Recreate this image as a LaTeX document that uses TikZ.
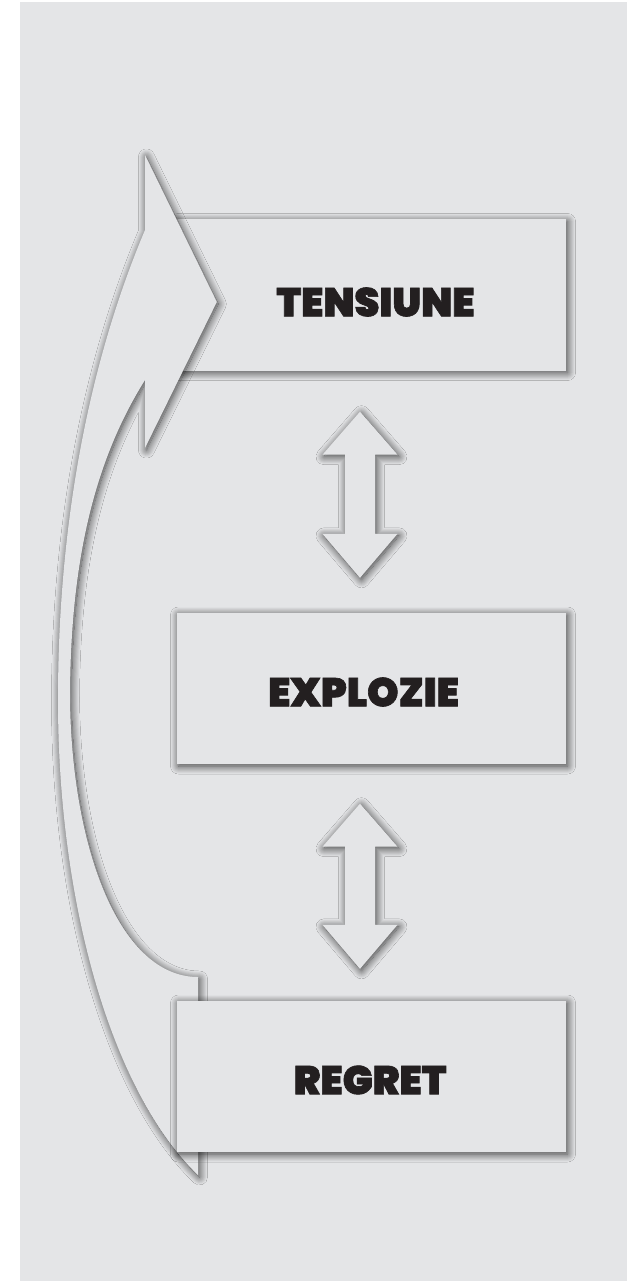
\documentclass[tikz,border=0pt]{standalone}
\usepackage{fontspec}
\setmainfont{Poppins}
\newfontfamily\heavy{Poppins}[UprightFont=* Bold, FakeBold=1.6]
\usetikzlibrary{calc,shadows.blur}
\definecolor{bg}{HTML}{E4E5E7}
\definecolor{ink}{HTML}{231F20}
\tikzset{
  soft/.style={fill=bg, blur shadow={shadow xshift=1.5pt, shadow yshift=-2pt,
      shadow blur radius=8pt, shadow blur steps=16, shadow opacity=75}},
  stagebox/.style={soft, draw=none, minimum width=389pt, minimum height=151pt, inner sep=0pt},
  lbl/.style={text=ink, inner sep=0pt, font=\fontsize{40}{40}\selectfont\heavy\bfseries},
}
\newcommand\dblarrow[2]{%
  \fill[soft] (#1) -- ($(#1)+(37.5,43)$) -- ($(#1)+(15,43)$) -- ($(#2)+(15,-44)$)
    -- ($(#2)+(37.5,-44)$) -- (#2) -- ($(#2)+(-37.5,-44)$) -- ($(#2)+(-15,-44)$)
    -- ($(#1)+(-15,43)$) -- ($(#1)+(-37.5,43)$) -- cycle;}
\begin{document}
\begin{tikzpicture}[x=1pt,y=-1pt]
\useasboundingbox (0,0) rectangle (627,1281);
\fill[white] (0,0) rectangle (627,1281);
\fill[bg] (20,2) rectangle (627,1281);

% boxes
\node[stagebox] (t) at (371.5,295) {};
\node[stagebox] (e) at (371.5,688.5) {};

% big return arrow (from REGRET back to TENSIUNE)
\coordinate (tip) at ($(t.west)+(40,7)$);
\fill[soft] (145,155) -- (tip) -- (145,448) -- (145,380)
  .. controls (95,460) and (70,560) .. (70,700)
  .. controls (72,850) and (120,977) .. (198,977)
  -- (198,1175)
  .. controls (110,1090) and (58,900) .. (58,700)
  .. controls (58,520) and (90,360) .. (145,230) -- cycle;

\node[stagebox] (r) at (371.5,1076.5) {};

% labels
\node[lbl] at (375.5,302) {TENSIUNE};
\node[lbl] at (363.5,692) {EXPLOZIE};
\node[lbl] at (370,1080) {REGRET};

% double arrows between boxes
\coordinate (a1) at ($(t.south)+(-11.5,41)$);
\coordinate (b1) at ($(e.north)+(-11.5,-35)$);
\dblarrow{a1}{b1}
\coordinate (a2) at ($(e.south)+(-11.5,39.5)$);
\coordinate (b2) at ($(r.north)+(-11.5,-32)$);
\dblarrow{a2}{b2}
\end{tikzpicture}
\end{document}
